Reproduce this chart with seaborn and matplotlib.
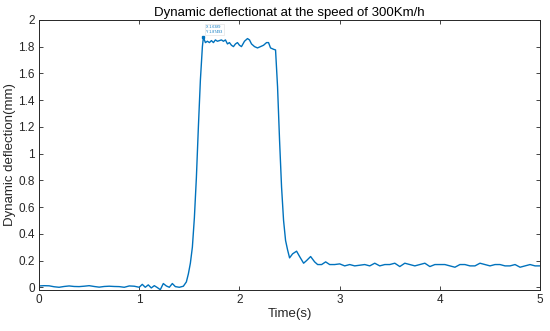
import pandas as pd
import seaborn as sns
import matplotlib
matplotlib.use("Agg")
import matplotlib.pyplot as plt

# time (s) and dynamic deflection (mm)
time_s = [0.00, 0.05, 0.10, 0.15, 0.20, 0.25, 0.30, 0.35, 0.40, 0.45, 0.50, 0.55, 0.60, 0.65,
          0.70, 0.75, 0.80, 0.85, 0.90, 0.95, 1.00, 1.03, 1.06, 1.09, 1.12, 1.15, 1.18, 1.21,
          1.24, 1.27, 1.30, 1.33, 1.36, 1.40, 1.44, 1.47, 1.49, 1.51, 1.53, 1.55, 1.57, 1.59,
          1.61, 1.63, 1.64, 1.66, 1.68, 1.70, 1.72, 1.74, 1.76, 1.78, 1.80, 1.82, 1.84, 1.86,
          1.88, 1.90, 1.92, 1.94, 1.96, 1.98, 2.00, 2.02, 2.05, 2.08, 2.10, 2.12, 2.15, 2.18,
          2.21, 2.24, 2.27, 2.29, 2.31, 2.34, 2.36, 2.38, 2.40, 2.42, 2.44, 2.46, 2.48, 2.50,
          2.53, 2.57, 2.60, 2.64, 2.67, 2.71, 2.75, 2.78, 2.82, 2.86, 2.90, 2.95, 3.00, 3.05,
          3.10, 3.15, 3.20, 3.25, 3.30, 3.35, 3.40, 3.45, 3.50, 3.55, 3.60, 3.65, 3.70, 3.75,
          3.80, 3.85, 3.90, 3.95, 4.00, 4.05, 4.10, 4.15, 4.20, 4.25, 4.30, 4.35, 4.40, 4.45,
          4.50, 4.55, 4.60, 4.65, 4.70, 4.75, 4.80, 4.85, 4.90, 4.95, 5.00]
deflection = [0.010, 0.012, 0.011, 0.004, 0.000, 0.006, 0.010, 0.006, 0.005, 0.008, 0.012, 0.006,
              0.001, 0.006, 0.008, 0.006, 0.005, 0.000, 0.010, 0.008, 0.000, 0.022, 0.000, 0.018,
              -0.005, 0.012, -0.002, -0.018, 0.028, 0.010, 0.000, 0.028, 0.005, 0.000, 0.008,
              0.040, 0.100, 0.180, 0.300, 0.520, 0.820, 1.200, 1.550, 1.800, 1.870, 1.830, 1.840,
              1.830, 1.845, 1.830, 1.850, 1.840, 1.845, 1.850, 1.840, 1.850, 1.820, 1.830, 1.810,
              1.800, 1.820, 1.830, 1.810, 1.800, 1.840, 1.860, 1.850, 1.820, 1.800, 1.790, 1.800,
              1.810, 1.830, 1.830, 1.790, 1.780, 1.775, 1.500, 1.100, 0.750, 0.500, 0.350, 0.280,
              0.220, 0.250, 0.270, 0.230, 0.180, 0.200, 0.230, 0.190, 0.170, 0.170, 0.190, 0.170,
              0.170, 0.175, 0.160, 0.170, 0.160, 0.165, 0.170, 0.160, 0.180, 0.160, 0.170, 0.170,
              0.180, 0.155, 0.180, 0.170, 0.160, 0.170, 0.180, 0.155, 0.170, 0.170, 0.170, 0.160,
              0.150, 0.170, 0.170, 0.160, 0.160, 0.180, 0.170, 0.160, 0.170, 0.170, 0.160, 0.160,
              0.170, 0.150, 0.160, 0.170, 0.160, 0.160]

tip_t, tip_v = 1.63889, 1.87493

df = pd.DataFrame({"t": time_s, "v": deflection})

sns.set_style("white")
plt.rcParams["font.family"] = ["Liberation Sans", "DejaVu Sans"]

ink = "#262626"
fig = plt.figure(figsize=(5.5, 3.31), dpi=100)
ax = fig.add_axes([0.071, 0.124, 0.911, 0.816])
sns.lineplot(data=df, x="t", y="v", color="#0072BD", linewidth=1.0, ax=ax)

# MATLAB-style data tip
ax.plot([tip_t], [tip_v], marker="s", markersize=1.5, color="#0072BD")
ax.text(tip_t + 0.03, tip_v + 0.02, f"X {tip_t:.5g}\nY {tip_v:.6g}", fontsize=2.6,
        color="#0072BD", va="bottom", ha="left", linespacing=1.3,
        bbox=dict(boxstyle="square,pad=0.4", fc="white", ec="#dddddd", lw=0.4))

ax.set_xlim(0, 5)
ax.set_ylim(-0.02, 2)
ax.set_xticks([0, 1, 2, 3, 4, 5])
ax.set_yticks([0, 0.2, 0.4, 0.6, 0.8, 1, 1.2, 1.4, 1.6, 1.8, 2])
ax.set_yticklabels(["0", "0.2", "0.4", "0.6", "0.8", "1", "1.2", "1.4", "1.6", "1.8", "2"])
ax.tick_params(direction="in", length=3, width=0.6, colors=ink, labelsize=8.5,
               top=True, right=True, left=True, bottom=True, pad=3)
for s in ax.spines.values():
    s.set_color(ink)
    s.set_linewidth(0.7)

ax.set_title("Dynamic deflectionat at the speed of 300Km/h", fontsize=9.5, color="black", pad=3)
ax.set_xlabel("Time(s)", fontsize=9.5, color=ink, labelpad=1)
ax.set_ylabel("Dynamic deflection(mm)", fontsize=9.5, color=ink, labelpad=2)

plt.savefig("out.png", dpi=100)
